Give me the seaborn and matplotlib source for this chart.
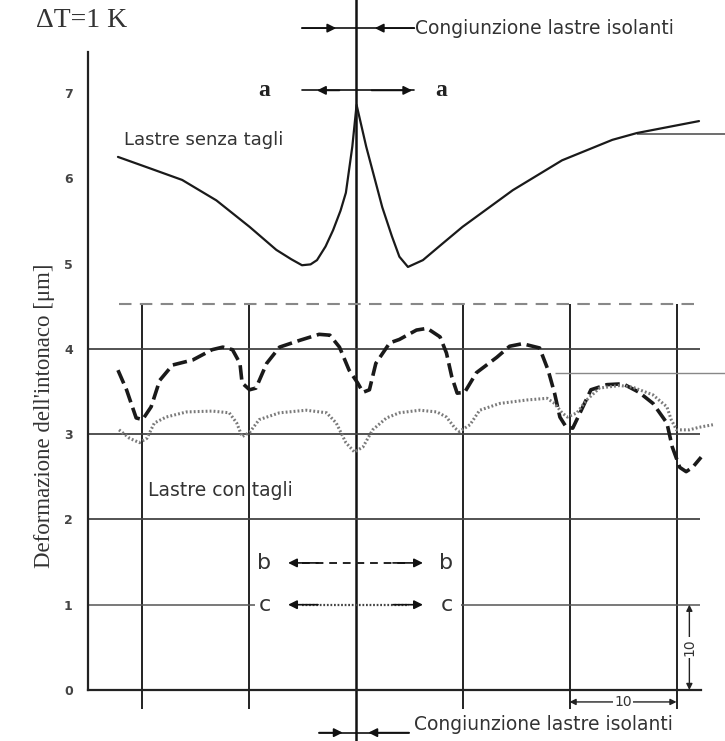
import numpy as np
import pandas as pd
import seaborn as sns
import matplotlib.pyplot as plt

# --- data (distance from the insulating board joint in cm, deformation in um) ---
top_x = [-22.2, -19.3, -16.2, -13.0, -9.9, -7.4, -6.0, -5.0, -4.2, -3.6, -2.8, -2.1, -1.4,
         -0.9, -0.3, 0.1, 1.0, 2.5, 3.4, 4.1, 4.9, 6.3, 8.0, 10.0, 14.7, 19.3, 24.0, 26.3, 32.1]
top_y = [6.25, 6.12, 5.98, 5.74, 5.43, 5.16, 5.05, 4.98, 4.99, 5.04, 5.20, 5.39, 5.62,
         5.83, 6.37, 6.86, 6.37, 5.66, 5.32, 5.08, 4.96, 5.04, 5.22, 5.43, 5.86, 6.21, 6.45, 6.53, 6.67]

b_x = [-22.2, -21.4, -20.5, -19.9, -19.1, -18.3, -17.1, -15.2, -13.4, -12.4, -11.5, -10.8,
       -10.6, -9.9, -9.3, -8.3, -7.1, -5.2, -3.4, -2.4, -1.5, -0.6, 0.2, 0.7, 1.3, 1.9,
       3.2, 4.1, 5.7, 6.7, 7.9, 8.5, 9.0, 9.5, 10.2, 11.3, 13.2, 14.4, 15.6, 17.2, 18.0,
       18.6, 19.1, 19.7, 20.3, 21.1, 22.0, 23.5, 25.0, 26.5, 27.8, 29.1, 29.6, 30.3,
       30.9, 31.5, 32.3]
b_y = [3.75, 3.52, 3.19, 3.17, 3.32, 3.63, 3.81, 3.87, 3.99, 4.02, 3.99, 3.83,
       3.60, 3.52, 3.54, 3.83, 4.02, 4.10, 4.17, 4.16, 4.02, 3.75, 3.60, 3.49, 3.52, 3.83,
       4.07, 4.11, 4.22, 4.24, 4.14, 3.95, 3.67, 3.48, 3.49, 3.72, 3.90, 4.03, 4.06, 4.01, 3.75,
       3.48, 3.20, 3.08, 3.07, 3.28, 3.52, 3.58, 3.59, 3.49, 3.36, 3.13, 2.85, 2.61,
       2.56, 2.61, 2.73]

c_x = [-22.1, -21.1, -20.2, -19.5, -18.8, -17.7, -15.8, -13.4, -11.8, -11.1, -10.6, -9.9,
       -9.0, -7.1, -4.6, -2.7, -1.8, -0.9, -0.1, 0.7, 1.6, 2.9, 4.1, 6.0, 7.6, 8.5, 9.3,
       9.7, 10.7, 11.6, 13.5, 16.0, 17.9, 18.6, 19.3, 19.8, 20.7, 21.6, 22.8, 24.7, 25.9,
       27.8, 29.1, 29.5, 30.0, 31.2, 32.1, 33.4]
c_y = [3.05, 2.95, 2.90, 2.95, 3.13, 3.20, 3.26, 3.27, 3.25, 3.13, 2.97, 3.02,
       3.17, 3.25, 3.28, 3.25, 3.13, 2.90, 2.79, 2.85, 3.05, 3.19, 3.25, 3.28, 3.26, 3.20, 3.07,
       3.03, 3.11, 3.28, 3.36, 3.40, 3.42, 3.36, 3.25, 3.20, 3.25, 3.40, 3.54, 3.57, 3.55,
       3.46, 3.32, 3.17, 3.05, 3.05, 3.08, 3.11]

y_ticks = [0, 1, 2, 3, 4, 5, 6, 7]
joints = [-20, -10, 10, 20, 30]

sns.set_style("white")
plt.rcParams["font.family"] = ["DejaVu Sans"]
ink = "#222222"

fig = plt.figure(figsize=(7.25, 7.41), dpi=100)
ax = fig.add_axes([88 / 725, 51 / 741, 612.5 / 725, 638 / 741])
ax.set_xlim(-25, 32.24)
ax.set_ylim(0, 7.48)

# grid of the drawing
ax.vlines(joints, -0.22, 4.53, color=ink, lw=1.4, clip_on=False)
ax.vlines(0, -0.6, 8.1, color="#111111", lw=1.8, clip_on=False)
ax.hlines([2, 3, 4], -25, 32.2, color="#444444", lw=1.3, clip_on=False)
ax.hlines(1, -25, -9.4, color="#555555", lw=1.1)
ax.hlines(1, 9.9, 32.2, color="#555555", lw=1.1)
ax.hlines(3.72, 18.6, 35, color="#888888", lw=1.0, clip_on=False)
ax.hlines(6.52, 26.3, 35, color="#555555", lw=1.2, clip_on=False)
ax.plot([-22.1, 32.4], [4.53, 4.53], color="#888888", lw=1.5, dashes=(6, 4), clip_on=False)

# curves
sns.lineplot(x=top_x, y=top_y, sort=False, estimator=None, color="#1a1a1a", lw=1.6,
             ax=ax, clip_on=False)
sns.lineplot(x=b_x, y=b_y, sort=False, estimator=None, color="#1a1a1a", lw=2.6,
             ax=ax, clip_on=False, dashes=False, linestyle=(0, (4, 1.6)))
sns.lineplot(x=c_x, y=c_y, sort=False, estimator=None, color="#7a7a7a", lw=2.2,
             ax=ax, clip_on=False, dashes=False, linestyle=(0, (0.6, 0.7)))

# axes
for s in ["top", "right"]:
    ax.spines[s].set_visible(False)
for s in ["left", "bottom"]:
    ax.spines[s].set_color(ink)
    ax.spines[s].set_linewidth(1.6)
ax.set_xticks([])
ax.set_yticks(y_ticks)
ax.tick_params(axis="y", direction="in", length=9, width=1.2, pad=11, labelsize=9,
               labelcolor="#444444", color=ink)
for t in ax.get_yticklabels():
    t.set_fontweight("bold")
ax.set_ylabel("Deformazione dell'intonaco [μm]", family="Liberation Serif", fontsize=16.5,
              color="#333333")
ax.yaxis.set_label_coords(-0.054, 0.43)


def arrow(x_tail, x_tip, y, ls="-"):
    ax.annotate("", xy=(x_tip, y), xytext=(x_tail, y), annotation_clip=False,
                arrowprops=dict(arrowstyle="-|>", color="#111111", lw=1.2, ls=ls,
                                mutation_scale=13, shrinkA=0, shrinkB=0))


# annotations
ax.text(-29.9, 7.85, "ΔT=1 K", family="Liberation Serif", fontsize=20, color="#333333",
        va="center", ha="left")
ax.plot([-5, 0], [7.76, 7.76], color="#111111", lw=1.2, clip_on=False)
arrow(-5, -1.8, 7.76)
ax.plot([0, 5.5], [7.76, 7.76], color="#111111", lw=1.2, clip_on=False)
arrow(5.5, 1.8, 7.76)
ax.text(5.6, 7.76, "Congiunzione lastre isolanti", fontsize=13.5, color="#333333", va="center")

ax.text(-8.5, 7.03, "a", family="Liberation Serif", fontsize=17, fontweight="bold",
        color="#222222", va="center", ha="center")
ax.text(8.0, 7.03, "a", family="Liberation Serif", fontsize=17, fontweight="bold",
        color="#222222", va="center", ha="center")
ax.plot([-5, 5.5], [7.03, 7.03], color="#111111", lw=1.2, clip_on=False)
arrow(-1.5, -3.6, 7.03)
arrow(1.5, 5.3, 7.03)

ax.text(-21.6, 6.45, "Lastre senza tagli", fontsize=13, color="#333333", va="center")
ax.text(-19.4, 2.34, "Lastre con tagli", fontsize=13.5, color="#333333", va="center")

ax.text(-8.5, 1.49, "b", fontsize=16, color="#333333", va="center", ha="center")
ax.text(8.5, 1.49, "b", fontsize=16, color="#333333", va="center", ha="center")
ax.plot([-5, 5], [1.49, 1.49], color="#222222", lw=1.4, dashes=(4, 3))
arrow(-3.5, -6.3, 1.49)
arrow(3.5, 6.3, 1.49)

ax.text(-8.5, 1.0, "c", fontsize=16, color="#333333", va="center", ha="center")
ax.text(8.5, 1.0, "c", fontsize=16, color="#333333", va="center", ha="center")
ax.plot([-5, 5], [1.0, 1.0], color="#444444", lw=1.6, dashes=(0.8, 0.8))
arrow(-3.5, -6.3, 1.0)
arrow(3.5, 6.3, 1.0)

ax.plot([-3.4, 0], [-0.5, -0.5], color="#111111", lw=1.2, clip_on=False)
arrow(-3.4, -1.2, -0.5)
ax.plot([0, 5], [-0.5, -0.5], color="#111111", lw=1.2, clip_on=False)
arrow(5, 1.2, -0.5)
ax.text(5.5, -0.4, "Congiunzione lastre isolanti", fontsize=13.5, color="#333333",
        va="center")

# dimension marks
ax.annotate("", xy=(20, -0.14), xytext=(30, -0.14), annotation_clip=False,
            arrowprops=dict(arrowstyle="<|-|>", color="#222222", lw=1.0,
                            mutation_scale=9, shrinkA=0, shrinkB=0))
ax.text(25, -0.14, "10", fontsize=10, color="#333333", ha="center", va="center",
        bbox=dict(fc="white", ec="none", pad=1))
ax.annotate("", xy=(31.2, 0), xytext=(31.2, 1), annotation_clip=False,
            arrowprops=dict(arrowstyle="<|-|>", color="#222222", lw=1.0,
                            mutation_scale=9, shrinkA=0, shrinkB=0))
ax.text(31.2, 0.5, "10", fontsize=10, color="#333333", ha="center", va="center",
        rotation=90, bbox=dict(fc="white", ec="none", pad=1))

# letters cut off by the scan border
ax.text(34.45, 3.93, "b", fontsize=16, color="#333333", va="center", ha="left")
ax.text(34.45, 3.22, "c", fontsize=16, color="#333333", va="center", ha="left")

fig.savefig("out.png", dpi=100)
